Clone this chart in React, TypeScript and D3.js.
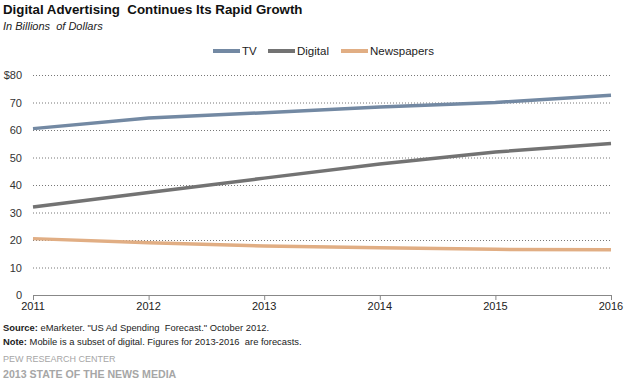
import React from "react";
import * as d3 from "d3";

const years = [2011, 2012, 2013, 2014, 2015, 2016];
const tv = [60.5, 64.4, 66.3, 68.4, 70.0, 72.6];
const digital = [32.0, 37.3, 42.5, 47.6, 52.0, 55.1];
const newspapers = [20.5, 19.0, 17.8, 17.2, 16.6, 16.5];
const yTicks = [0, 10, 20, 30, 40, 50, 60, 70, 80];

const seriesNames = ["TV", "Digital", "Newspapers"];
const seriesColors = ["#7389a3", "#737373", "#e1ae84"];

const W = 630;
const H = 386;
const FONT = "'Liberation Sans', Arial, sans-serif";

const App = () => {
  const x = d3.scaleLinear().domain([2011, 2016]).range([33, 611]);
  const y = d3.scaleLinear().domain([0, 80]).range([295, 75]);

  const line = d3
    .line<number>()
    .x((d, i) => x(years[i]))
    .y((d) => y(d));

  const allSeries = [tv, digital, newspapers];
  const legendX = [213, 268, 341];

  return (
    <svg
      width={W}
      height={H}
      style={{ position: "absolute", left: 0, top: 0, background: "#fff" }}
      fontFamily={FONT}
    >
      <text x={3} y={14} fontSize={13.3} fontWeight="bold" fill="#111" xmlSpace="preserve">
        Digital Advertising  Continues Its Rapid Growth
      </text>
      <text x={3} y={30} fontSize={11} fontStyle="italic" fill="#222" xmlSpace="preserve">
        In Billions  of Dollars
      </text>

      {/* legend */}
      {seriesNames.map((name, i) => (
        <g key={name} transform={`translate(${legendX[i]}, 51)`}>
          <line x1={0} x2={27} y1={0} y2={0} stroke={seriesColors[i]} strokeWidth={4} />
          <text x={29} y={4} fontSize={11.5} fill="#222">
            {name}
          </text>
        </g>
      ))}

      {/* grid */}
      {yTicks.map((t) => (
        <g key={t}>
          {t > 0 && (
            <line
              x1={33}
              x2={611}
              y1={y(t) + 0.5}
              y2={y(t) + 0.5}
              stroke="#777"
              strokeWidth={1}
              strokeDasharray="1,2"
            />
          )}
          <text x={22} y={y(t) + 4} fontSize={11} fill="#333" textAnchor="end">
            {t === 80 ? "$80" : t}
          </text>
        </g>
      ))}

      {/* x axis */}
      <line x1={33} x2={611} y1={y(0) + 0.5} y2={y(0) + 0.5} stroke="#888" />
      {years.map((yr) => (
        <g key={yr}>
          <line x1={x(yr) + 0.5} x2={x(yr) + 0.5} y1={y(0)} y2={y(0) + 5} stroke="#888" />
          <text x={x(yr)} y={y(0) + 15} fontSize={11} fill="#222" textAnchor="middle">
            {yr}
          </text>
        </g>
      ))}

      {/* lines */}
      {allSeries.map((s, i) => (
        <path
          key={seriesNames[i]}
          d={line(s) || ""}
          fill="none"
          stroke={seriesColors[i]}
          strokeWidth={3.5}
        />
      ))}

      {/* footer */}
      <text x={3} y={331} fontSize={9.4} fill="#222" xmlSpace="preserve">
        <tspan fontWeight="bold">Source:</tspan> eMarketer. "US Ad Spending  Forecast." October 2012.
      </text>
      <text x={3} y={345} fontSize={9.4} fill="#222" xmlSpace="preserve">
        <tspan fontWeight="bold">Note:</tspan> Mobile is a subset of digital. Figures for 2013-2016  are forecasts.
      </text>
      <text x={3} y={362} fontSize={9} fill="#a6a6a6">
        PEW RESEARCH CENTER
      </text>
      <text x={3} y={378} fontSize={10.6} fontWeight="bold" fill="#a6a6a6">
        2013 STATE OF THE NEWS MEDIA
      </text>
    </svg>
  );
};

export default App;
